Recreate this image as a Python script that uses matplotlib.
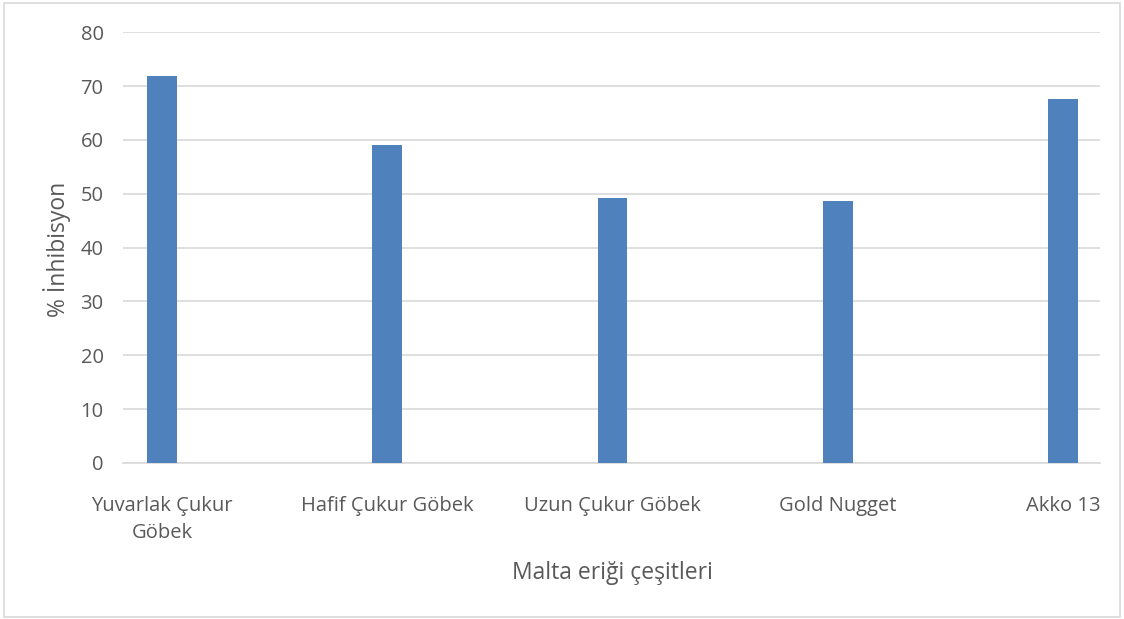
import matplotlib
matplotlib.use("Agg")
import matplotlib.pyplot as plt
from matplotlib.patches import Rectangle

categories = ["Yuvarlak Çukur\nGöbek", "Hafif Çukur Göbek", "Uzun Çukur Göbek", "Gold Nugget", "Akko 13"]
inhibition = [71.8, 59.0, 49.2, 48.6, 67.7]
y_ticks = [0, 10, 20, 30, 40, 50, 60, 70, 80]

plt.rcParams["font.family"] = ["Open Sans", "DejaVu Sans"]
text_color = "#595959"
grid_color = "#d9d9d9"
bar_color = "#4f81bd"

fig = plt.figure(figsize=(11.24, 6.19), dpi=100)
fig.patch.set_facecolor("white")
ax = fig.add_axes([123 / 1124, 1 - 463 / 619, (1100 - 123) / 1124, (463 - 32.3) / 619])

x = list(range(len(categories)))
ax.bar(x, inhibition, width=0.133, color=bar_color, zorder=3)

ax.set_xlim(-0.173, 4.164)
ax.set_ylim(0, 80)
ax.set_yticks(y_ticks)
ax.set_xticks(x)
ax.set_xticklabels(categories, fontsize=14.5, color=text_color, linespacing=1.45)
ax.tick_params(axis="y", labelsize=14.5, labelcolor=text_color, length=0, pad=14)
ax.tick_params(axis="x", length=0, pad=24)

ax.grid(axis="y", color=grid_color, linewidth=1.2, zorder=0)
for side in ["top", "right", "left"]:
    ax.spines[side].set_visible(False)
ax.spines["bottom"].set_color(grid_color)
ax.spines["bottom"].set_linewidth(1.2)

fig.text(57 / 1124, 1 - 249 / 619, "% İnhibisyon", fontsize=16.5, color=text_color,
         ha="center", va="center", rotation=90)
fig.text(612 / 1124, 1 - 573 / 619, "Malta eriği çeşitleri", fontsize=16.5,
         color=text_color, ha="center", va="center")

fig.patches.append(Rectangle((4 / 1124, 2 / 619), 1116 / 1124, 614 / 619,
                             transform=fig.transFigure, fill=False,
                             edgecolor=grid_color, linewidth=1.2))

fig.savefig("out.png", dpi=100)
